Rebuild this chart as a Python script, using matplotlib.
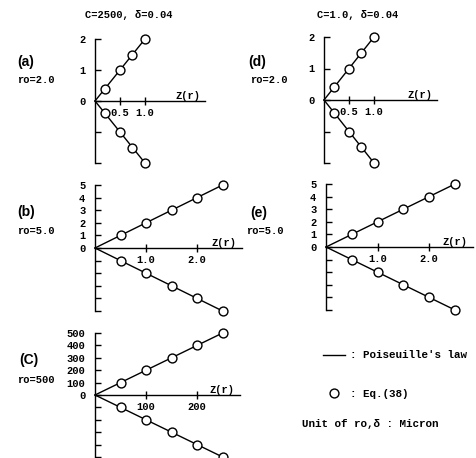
import matplotlib
matplotlib.use('Agg')
import matplotlib.pyplot as plt
import matplotlib.transforms as mtransforms
from matplotlib.lines import Line2D

W, H = 477, 458
plt.rcParams['font.family'] = ['Liberation Mono', 'DejaVu Sans Mono']
plt.rcParams['font.size'] = 7.5
plt.rcParams['font.weight'] = 'bold'

# ro = 2.0 : points of Eq.(38)
z_ro2 = [0.2, 0.5, 0.75, 1.0]
q_ro2 = [0.4, 1.0, 1.5, 2.0]
# ro = 5.0
z_ro5 = [0.5, 1.0, 1.5, 2.0, 2.5]
q_ro5 = [1.0, 2.0, 3.0, 4.0, 5.0]
# ro = 500
z_ro500 = [50, 100, 150, 200, 250]
q_ro500 = [100, 200, 300, 400, 500]

yt_ro2 = [2, 1, 0, -1, -2]
yt_ro5 = [5, 4, 3, 2, 1, 0, -1, -2, -3, -4, -5]
yt_ro500 = [500, 400, 300, 200, 100, 0, -100, -200, -300, -400, -500]

fig = plt.figure(figsize=(W / 100, H / 100), dpi=100)


def px_rect(x0, x1, ytop, ybot):
    return [x0 / W, 1 - ybot / H, (x1 - x0) / W, (ybot - ytop) / H]


def panel(x0, x1, ytop, ybot, z, q, xmax, yticks, xticks, xlabels):
    ax = fig.add_axes(px_rect(x0, x1, ytop, ybot))
    qn = [-v for v in q]
    # Poiseuille's law lines
    ax.plot([0] + z, [0] + q, color='k', lw=1.0, clip_on=False)
    ax.plot([0] + z, [0] + qn, color='k', lw=1.0, clip_on=False)
    # Eq.(38)
    for vals in (q, qn):
        ax.plot(z, vals, 'o', mfc='white', mec='k', ms=6.4, mew=1.0,
                clip_on=False, zorder=3)
    top = max(yticks)
    ax.set_xlim(0, xmax)
    ax.set_ylim(-top, top)
    ax.spines['left'].set_position('zero')
    ax.spines['bottom'].set_position('zero')
    ax.spines['top'].set_visible(False)
    ax.spines['right'].set_visible(False)
    for s in ('left', 'bottom'):
        ax.spines[s].set_linewidth(1.0)
    ax.set_yticks(yticks)
    ax.set_yticklabels([str(t) if t >= 0 else '' for t in yticks])
    ax.set_xticks(xticks)
    ax.set_xticklabels(xlabels)
    ax.tick_params(axis='y', direction='in', length=4, width=1.0, pad=7,
                   labelsize=7.5)
    ax.tick_params(axis='x', direction='inout', length=6, width=1.0, pad=2,
                   labelsize=7.5)
    ax.patch.set_visible(False)
    tr = mtransforms.blended_transform_factory(ax.transAxes, ax.transData)
    ax.text(0.96, 0, 'Z(r)', transform=tr, ha='right', va='bottom',
            fontsize=7.5)
    return ax


panel(95, 205, 39, 163, z_ro2, q_ro2, 2.2, yt_ro2, [0.5, 1.0], ['0.5', '1.0'])
panel(95, 242, 185, 311, z_ro5, q_ro5, 2.88, yt_ro5, [1.0, 2.0], ['1.0', '2.0'])
panel(95, 240, 333, 457, z_ro500, q_ro500, 284, yt_ro500, [100, 200], ['100', '200'])
panel(324, 437, 37, 163, z_ro2, q_ro2, 2.26, yt_ro2, [0.5, 1.0], ['0.5', '1.0'])
panel(326, 473, 184, 310, z_ro5, q_ro5, 2.85, yt_ro5, [1.0, 2.0], ['1.0', '2.0'])


def ftext(x, y, s, **kw):
    fig.text(x / W, 1 - y / H, s, **kw)


ftext(129, 15, 'C=2500, δ=0.04', ha='center', va='center', fontsize=7.5)
ftext(358, 15, 'C=1.0, δ=0.04', ha='center', va='center', fontsize=7.5)

letter_kw = dict(family=['Liberation Sans', 'DejaVu Sans'], weight='bold',
                 fontsize=10, va='center', ha='left')
ftext(17, 62, '(a)', **letter_kw)
ftext(17, 212, '(b)', **letter_kw)
ftext(19, 360, '(C)', **letter_kw)
ftext(248, 62, '(d)', **letter_kw)
ftext(250, 213, '(e)', **letter_kw)

ftext(17, 80, 'ro=2.0', va='center', fontsize=7.5)
ftext(17, 231, 'ro=5.0', va='center', fontsize=7.5)
ftext(17, 380, 'ro=500', va='center', fontsize=7.5)
ftext(250, 80, 'ro=2.0', va='center', fontsize=7.5)
ftext(246, 231, 'ro=5.0', va='center', fontsize=7.5)

handles = [Line2D([], [], color='k', lw=1.0),
           Line2D([], [], ls='none', marker='o', mfc='white', mec='k',
                  ms=6.4, mew=1.0)]
fig.legend(handles, [": Poiseuille's law", ': Eq.(38)'],
           loc='upper left', bbox_to_anchor=(318 / W, 1 - 345 / H),
           frameon=False, fontsize=7.8, handlelength=2.0,
           handletextpad=0.5, labelspacing=2.6, borderpad=0)
ftext(302, 424, 'Unit of ro,δ : Micron', va='center', fontsize=7.8)

fig.savefig('out.png', dpi=100)
